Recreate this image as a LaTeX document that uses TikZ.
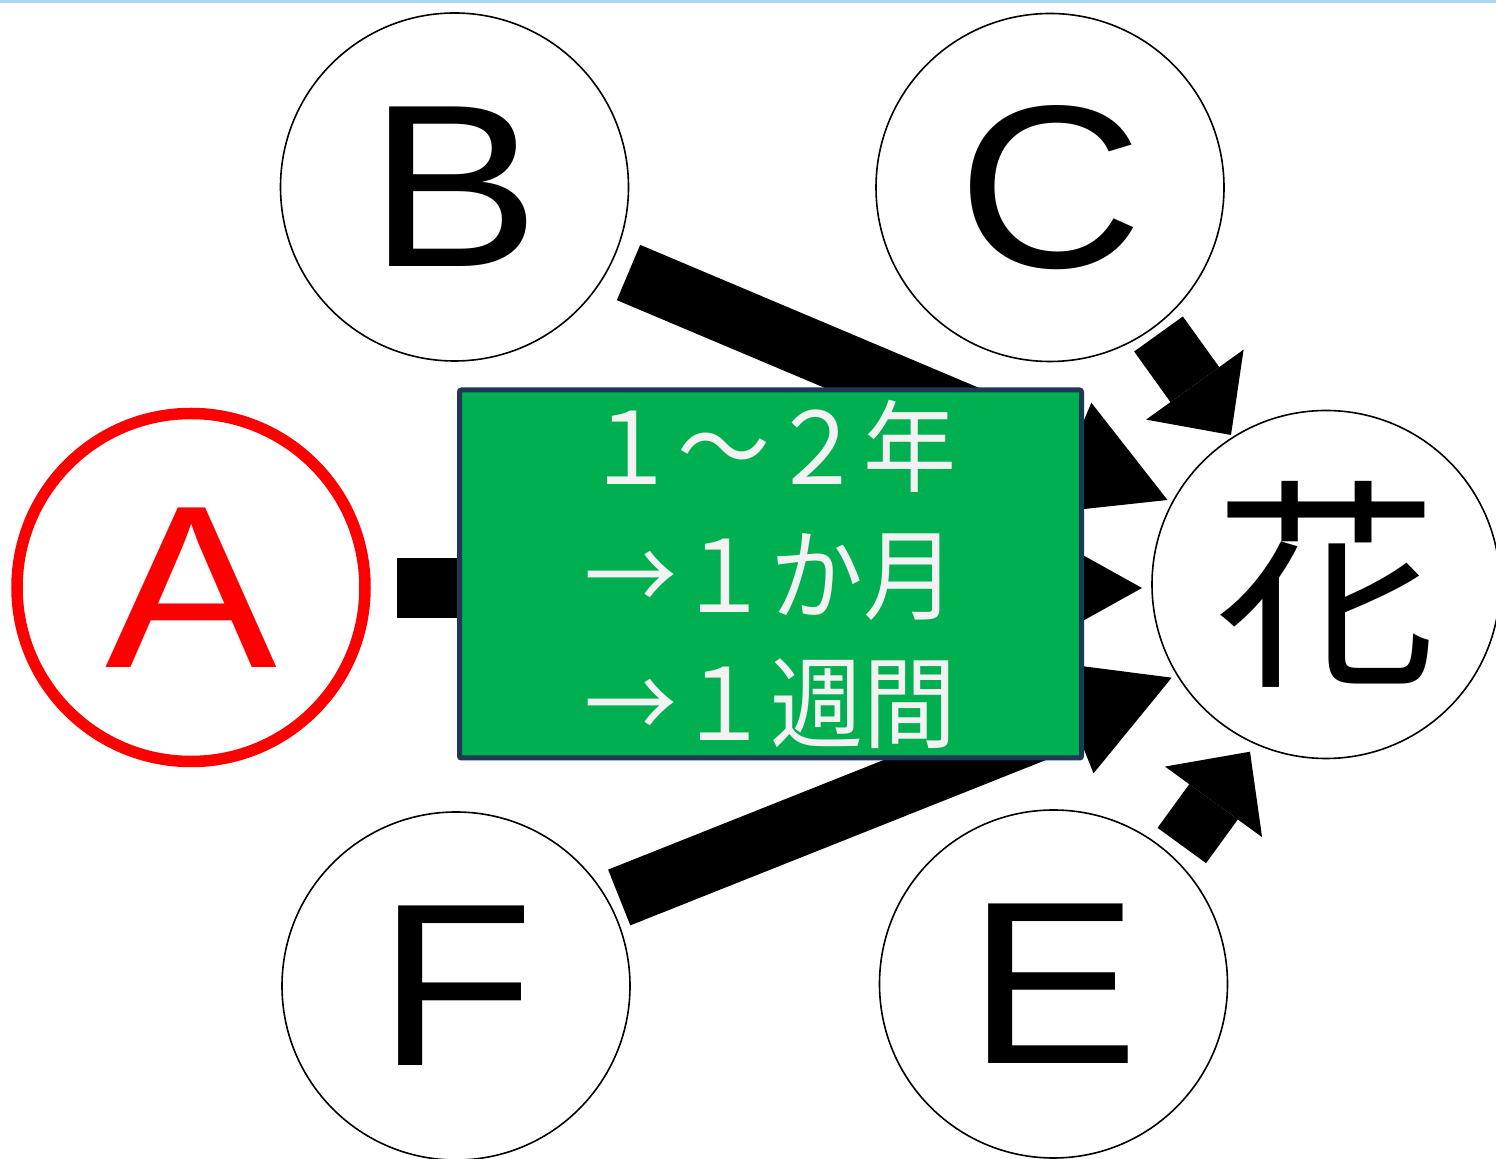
\documentclass[tikz,border=0pt]{standalone}
\usepackage{fontspec}
\setmainfont{Liberation Sans}
\newfontfamily\latinwide[FakeStretch=1.11]{Liberation Sans}
\newfontfamily\cjk{Noto Sans CJK JP}
\newfontfamily\cjknarrow[FakeStretch=0.93]{Noto Sans CJK JP}
\usetikzlibrary{arrows.meta}
\definecolor{boxgreen}{HTML}{00B050}
\definecolor{boxedge}{HTML}{1F3853}
\definecolor{boxtext}{HTML}{F2F2F2}
\definecolor{topline}{HTML}{A9D6F2}
\begin{document}
\begin{tikzpicture}[x=0.5pt,y=-0.5pt,
  circ/.style={circle, draw=black, line width=0.8pt, fill=white, minimum size=174pt, inner sep=0pt,
    font=\latinwide\fontsize{116pt}{116pt}\selectfont},
  redcirc/.style={circ, draw=red, line width=5.75pt, text=red},
  bigarrow/.style={line width=30pt, -{Triangle[width=60pt,length=54pt,line width=0pt]}},
  shortarrow/.style={line width=30pt, -{Triangle[width=60pt,length=31pt,line width=0pt]}},
  greenbox/.style={draw=boxedge, line width=2.5pt, fill=boxgreen, text=boxtext, rounded corners=1pt,
    minimum width=311pt, minimum height=184pt, inner sep=0pt, align=center,
    font=\cjknarrow\fontsize{50pt}{64pt}\selectfont}
  ]
\useasboundingbox (0,0) rectangle (1496,1159);
\draw[topline, line width=1.5pt] (0,1.5) -- (1496,1.5);

% circles
\node[redcirc] (A) at (191,587.5) {A};
\node[circ] (B) at (454.5,187) {B};
\node[circ] (C) at (1050,187.5) {C};
\node[circ] (F) at (456,986) {F};
\node[circ] (E) at (1053.5,984) {E};
\node[circ, font=\cjk\fontsize{112pt}{112pt}\selectfont] (H) at (1326,584.5) {花};

% arrow end points
\coordinate (A-out) at (397,588);   \coordinate (H-inA) at (1142,588);
\coordinate (B-out) at (628.5,272.5); \coordinate (H-inB) at (1167.5,500);
\coordinate (C-out) at (1158.5,334); \coordinate (H-inC) at (1231,435);
\coordinate (F-out) at (619.2,897.5); \coordinate (H-inF) at (1171.7,677.7);
\coordinate (E-out) at (1181.8,845.5); \coordinate (H-inE) at (1250,751.7);

% block arrows
\draw[bigarrow] (A-out) -- (H-inA);
\draw[bigarrow] (B-out) -- (H-inB);
\draw[shortarrow] (C-out) -- (H-inC);
\draw[bigarrow] (F-out) -- (H-inF);
\draw[shortarrow] (E-out) -- (H-inE);

% green box on top
\node[greenbox] (T) at (770.5,574) {１～２年\\→１か月\\→１週間};
\end{tikzpicture}
\end{document}
